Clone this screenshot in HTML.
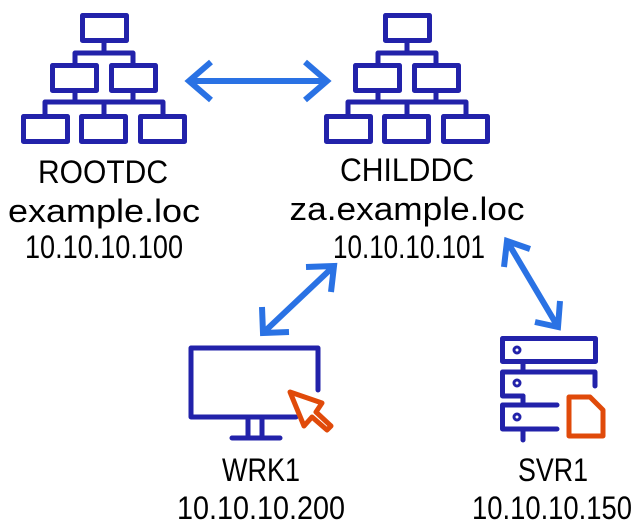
<!DOCTYPE html>
<html><head><meta charset="utf-8"><style>
html,body{margin:0;padding:0;background:#fff;}
svg{display:block;}
text{font-family:"Liberation Sans",sans-serif;font-size:32px;fill:#000;}
</style></head><body>
<svg width="639" height="527" viewBox="0 0 639 527" xmlns="http://www.w3.org/2000/svg">
<defs>
<g id="tree" fill="none" stroke="#2222aa" stroke-width="5" stroke-linejoin="round">
  <rect x="82.5" y="15.5" width="44" height="25"/>
  <rect x="52.5" y="65.5" width="44" height="25"/>
  <rect x="111.5" y="65.5" width="44" height="25"/>
  <rect x="23.5" y="116.5" width="44" height="25"/>
  <rect x="81.5" y="116.5" width="44" height="25"/>
  <rect x="140.5" y="116.5" width="44" height="25"/>
  <path d="M104 41V53M75 65V53H133V65M75 91V102M133 91V102M45 116V102H163V116M104 102V116"/>
</g>
</defs>
<use href="#tree"/>
<use href="#tree" transform="translate(303,0)"/>

<g fill="none" stroke="#2a72e4" stroke-width="6" stroke-linecap="butt">
  <path d="M189 81H327M211 62L189 81L211 100M305 62L327 81L305 100"/>
  <path d="M334 266L263 333M306 267L334 266L331 292M262 307L263 333L289 332"/>
  <path d="M507 241L558 327M504 267L507 241L530 249M535 322L558 327L560 301"/>
</g>

<g fill="none" stroke="#2222aa" stroke-width="5" stroke-linecap="round" stroke-linejoin="round">
  <path d="M318 390V348H191V417H296"/>
  <path d="M248 417V436M262 417V436M232 438H280"/>
  <rect x="502.5" y="338.5" width="93" height="23"/>
  <path d="M557 372H502.5V396H523M595 386V372H557"/>
  <path d="M557 405H502.5V429H557M523 362V372M523 396V405M523 429V440"/>
</g>
<g fill="none" stroke="#2222aa" stroke-width="3">
  <circle cx="517" cy="350" r="3"/><circle cx="517" cy="383" r="3"/><circle cx="517" cy="417" r="3"/>
</g>
<g fill="none" stroke="#e04a0a" stroke-width="5" stroke-linejoin="round">
  <path d="M290 392L322 403L316 412L331 426L327 430L312 417L304 426Z"/>
  <path d="M569 397V436H603V410L590 397Z"/>
</g>

<text x="103" y="183" text-anchor="middle" textLength="130" lengthAdjust="spacingAndGlyphs">ROOTDC</text>
<text x="104" y="222" text-anchor="middle" textLength="192" lengthAdjust="spacingAndGlyphs">example.loc</text>
<text x="104" y="258" text-anchor="middle" textLength="158" lengthAdjust="spacingAndGlyphs">10.10.10.100</text>
<text x="407" y="181" text-anchor="middle" textLength="134" lengthAdjust="spacingAndGlyphs">CHILDDC</text>
<text x="407" y="220" text-anchor="middle" textLength="235" lengthAdjust="spacingAndGlyphs">za.example.loc</text>
<text x="409" y="258" text-anchor="middle" textLength="152" lengthAdjust="spacingAndGlyphs">10.10.10.101</text>
<text x="261" y="481" text-anchor="middle" textLength="78" lengthAdjust="spacingAndGlyphs">WRK1</text>
<text x="261" y="519" text-anchor="middle" textLength="168" lengthAdjust="spacingAndGlyphs">10.10.10.200</text>
<text x="553" y="481" text-anchor="middle" textLength="70" lengthAdjust="spacingAndGlyphs">SVR1</text>
<text x="552" y="519" text-anchor="middle" textLength="160" lengthAdjust="spacingAndGlyphs">10.10.10.150</text>
</svg>
</body></html>
